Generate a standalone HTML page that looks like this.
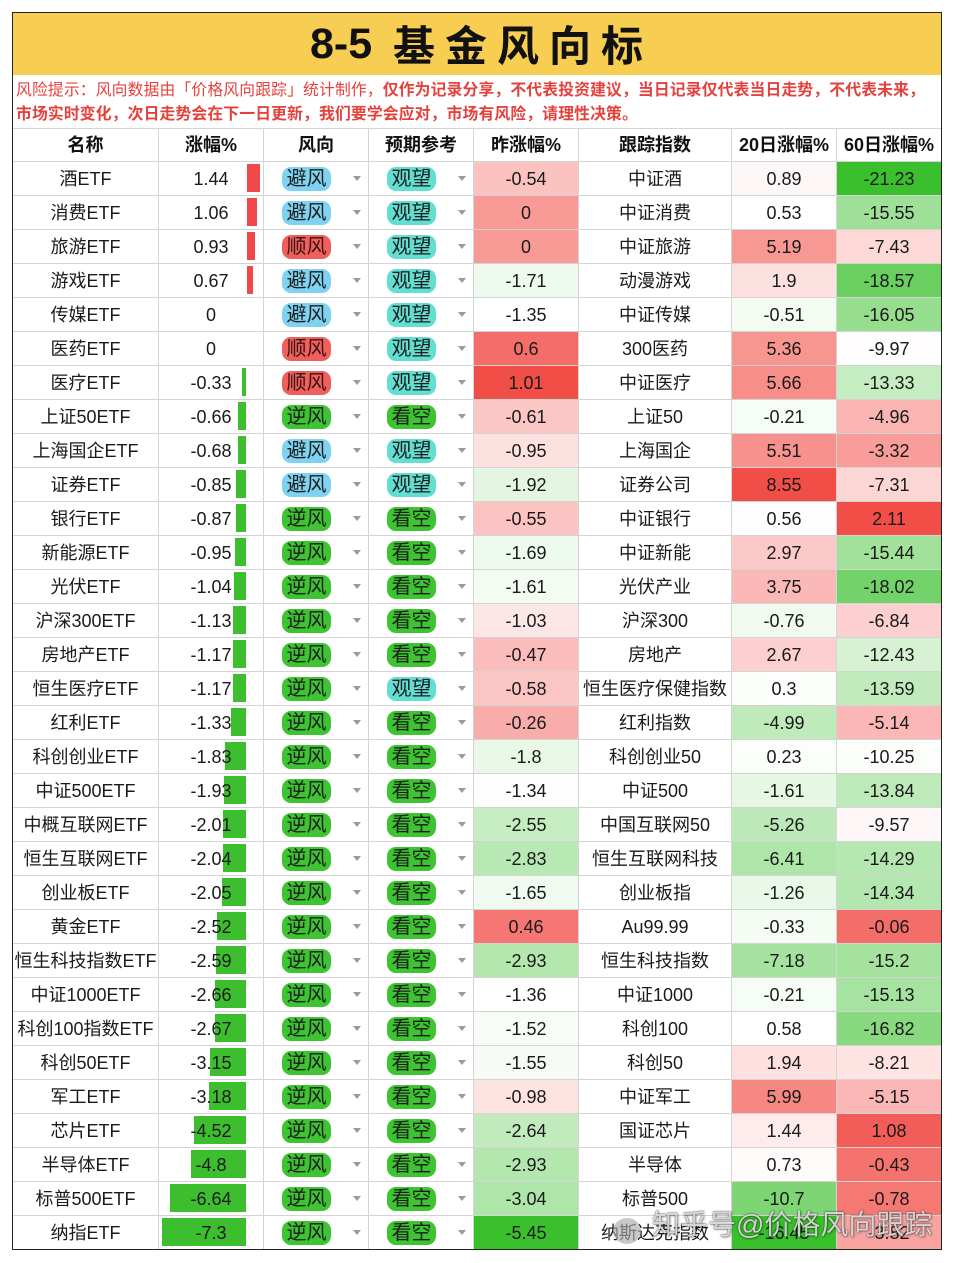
<!DOCTYPE html>
<html><head><meta charset="utf-8">
<style>
*{margin:0;padding:0;box-sizing:border-box}
body{width:954px;height:1263px;background:#fff;position:relative;overflow:hidden;font-family:"Liberation Sans","Noto Sans CJK SC",sans-serif;color:#1a1a1a}
#box{position:absolute;left:12px;top:12px;width:930px;height:1238px;border:1px solid #222;overflow:hidden}
#title{height:62px;background:#F7CE52;position:relative}
#warn{height:53px;position:relative}
.r{display:flex;height:34px;border-top:1px solid #d4d4d4}
.hd{height:33px;border-top:1px solid #d4d4d4;display:flex}
.c{height:100%;border-right:1px solid #d4d4d4;display:flex;align-items:center;justify-content:center;position:relative;font-size:18px;line-height:20px;white-space:nowrap}
.hd .c{font-weight:bold;font-size:18px;color:#111}
.c1{width:146px}.c2{width:105px}.c3{width:105px}.c4{width:105px}.c5{width:105px}.c6{width:153px}.c7{width:105px}.c8{width:104px;border-right:none}
.c2 span{position:relative;z-index:2}
.bn{position:absolute;top:2px;height:28px;background:#3DBE2E;right:17px;z-index:1}
.bp{position:absolute;top:2px;height:28px;background:#F04848;left:88px;z-index:1}
.p{position:absolute;left:18px;top:5px;width:49px;height:24px;border-radius:9px;font-size:20px;line-height:24px;text-align:center;font-weight:normal;color:#1d1d1d}
.bf{background:#7FD3F1}
.sf{background:#EF605D;color:#3a1414}
.nf{background:#3CC431}
.gw{background:#62DED2}
.ar{position:absolute;left:89px;top:14px;width:0;height:0;border-left:4px solid transparent;border-right:4px solid transparent;border-top:5px solid #9a9a9a}
#wm{position:absolute;left:652px;top:1205px;font-size:28px;line-height:40px;color:rgba(255,255,255,0.8);text-shadow:0 0 1px rgba(0,0,0,0.7),0 0 2px rgba(0,0,0,0.45),1px 1px 2px rgba(0,0,0,0.25);white-space:nowrap;font-family:"Liberation Sans","Noto Sans CJK SC",sans-serif;z-index:10}
#logo{position:absolute;left:613px;top:1218px;width:28px;height:26px;border-radius:50%;background:rgba(170,170,170,0.65);z-index:10}
</style></head><body>
<div id="box">
<div id="title">
<span style="position:absolute;left:297px;top:0;line-height:62px;font-size:43px;font-weight:bold;color:#111">8-5</span>
<span style="position:absolute;left:380px;top:0;line-height:62px;font-size:42px;font-weight:bold;letter-spacing:10px;color:#111;font-family:'Noto Sans CJK SC',sans-serif">基金风向标</span>
</div>
<div id="warn"></div>
<div class="hd">
<div class="c c1">名称</div><div class="c c2">涨幅%</div><div class="c c3">风向</div><div class="c c4">预期参考</div><div class="c c5">昨涨幅%</div><div class="c c6">跟踪指数</div><div class="c c7">20日涨幅%</div><div class="c c8">60日涨幅%</div>
</div>

<div class="r"><div class="c c1">酒ETF</div><div class="c c2"><i class="bp" style="width:13px"></i><span>1.44</span></div><div class="c c3"><b class="p bf">避风</b><i class="ar"></i></div><div class="c c4"><b class="p gw">观望</b><i class="ar"></i></div><div class="c c5" style="background:#FBC2C0">-0.54</div><div class="c c6">中证酒</div><div class="c c7" style="background:#FEF7F7">0.89</div><div class="c c8" style="background:#3AC02C">-21.23</div></div>

<div class="r"><div class="c c1">消费ETF</div><div class="c c2"><i class="bp" style="width:10px"></i><span>1.06</span></div><div class="c c3"><b class="p bf">避风</b><i class="ar"></i></div><div class="c c4"><b class="p gw">观望</b><i class="ar"></i></div><div class="c c5" style="background:#F89A96">0</div><div class="c c6">中证消费</div><div class="c c7" style="background:#FFFFFF">0.53</div><div class="c c8" style="background:#9FE098">-15.55</div></div>

<div class="r"><div class="c c1">旅游ETF</div><div class="c c2"><i class="bp" style="width:8px"></i><span>0.93</span></div><div class="c c3"><b class="p sf">顺风</b><i class="ar"></i></div><div class="c c4"><b class="p gw">观望</b><i class="ar"></i></div><div class="c c5" style="background:#F89A96">0</div><div class="c c6">中证旅游</div><div class="c c7" style="background:#F79895">5.19</div><div class="c c8" style="background:#FCD8D7">-7.43</div></div>

<div class="r"><div class="c c1">游戏ETF</div><div class="c c2"><i class="bp" style="width:6px"></i><span>0.67</span></div><div class="c c3"><b class="p bf">避风</b><i class="ar"></i></div><div class="c c4"><b class="p gw">观望</b><i class="ar"></i></div><div class="c c5" style="background:#EEFAED">-1.71</div><div class="c c6">动漫游戏</div><div class="c c7" style="background:#FDE1E0">1.9</div><div class="c c8" style="background:#69CF5E">-18.57</div></div>

<div class="r"><div class="c c1">传媒ETF</div><div class="c c2"><span>0</span></div><div class="c c3"><b class="p bf">避风</b><i class="ar"></i></div><div class="c c4"><b class="p gw">观望</b><i class="ar"></i></div><div class="c c5" style="background:#FFFFFF">-1.35</div><div class="c c6">中证传媒</div><div class="c c7" style="background:#F3FBF2">-0.51</div><div class="c c8" style="background:#96DD8E">-16.05</div></div>

<div class="r"><div class="c c1">医药ETF</div><div class="c c2"><span>0</span></div><div class="c c3"><b class="p sf">顺风</b><i class="ar"></i></div><div class="c c4"><b class="p gw">观望</b><i class="ar"></i></div><div class="c c5" style="background:#F46D68">0.6</div><div class="c c6">300医药</div><div class="c c7" style="background:#F79591">5.36</div><div class="c c8" style="background:#FFFDFD">-9.97</div></div>

<div class="r"><div class="c c1">医疗ETF</div><div class="c c2"><i class="bn" style="width:4px"></i><span>-0.33</span></div><div class="c c3"><b class="p sf">顺风</b><i class="ar"></i></div><div class="c c4"><b class="p gw">观望</b><i class="ar"></i></div><div class="c c5" style="background:#F24E48">1.01</div><div class="c c6">中证医疗</div><div class="c c7" style="background:#F78E8A">5.66</div><div class="c c8" style="background:#C6EDC2">-13.33</div></div>

<div class="r"><div class="c c1">上证50ETF</div><div class="c c2"><i class="bn" style="width:8px"></i><span>-0.66</span></div><div class="c c3"><b class="p nf">逆风</b><i class="ar"></i></div><div class="c c4"><b class="p nf">看空</b><i class="ar"></i></div><div class="c c5" style="background:#FBC7C5">-0.61</div><div class="c c6">上证50</div><div class="c c7" style="background:#F6FCF6">-0.21</div><div class="c c8" style="background:#FAB4B2">-4.96</div></div>

<div class="r"><div class="c c1">上海国企ETF</div><div class="c c2"><i class="bn" style="width:8px"></i><span>-0.68</span></div><div class="c c3"><b class="p bf">避风</b><i class="ar"></i></div><div class="c c4"><b class="p gw">观望</b><i class="ar"></i></div><div class="c c5" style="background:#FDE1E0">-0.95</div><div class="c c6">上海国企</div><div class="c c7" style="background:#F7918E">5.51</div><div class="c c8" style="background:#F89D99">-3.32</div></div>

<div class="r"><div class="c c1">证券ETF</div><div class="c c2"><i class="bn" style="width:10px"></i><span>-0.85</span></div><div class="c c3"><b class="p bf">避风</b><i class="ar"></i></div><div class="c c4"><b class="p gw">观望</b><i class="ar"></i></div><div class="c c5" style="background:#E4F6E2">-1.92</div><div class="c c6">证券公司</div><div class="c c7" style="background:#F24E48">8.55</div><div class="c c8" style="background:#FCD6D5">-7.31</div></div>

<div class="r"><div class="c c1">银行ETF</div><div class="c c2"><i class="bn" style="width:10px"></i><span>-0.87</span></div><div class="c c3"><b class="p nf">逆风</b><i class="ar"></i></div><div class="c c4"><b class="p nf">看空</b><i class="ar"></i></div><div class="c c5" style="background:#FBC3C1">-0.55</div><div class="c c6">中证银行</div><div class="c c7" style="background:#FFFEFE">0.56</div><div class="c c8" style="background:#F24E48">2.11</div></div>

<div class="r"><div class="c c1">新能源ETF</div><div class="c c2"><i class="bn" style="width:11px"></i><span>-0.95</span></div><div class="c c3"><b class="p nf">逆风</b><i class="ar"></i></div><div class="c c4"><b class="p nf">看空</b><i class="ar"></i></div><div class="c c5" style="background:#EFFAEE">-1.69</div><div class="c c6">中证新能</div><div class="c c7" style="background:#FBC9C8">2.97</div><div class="c c8" style="background:#A1E19A">-15.44</div></div>

<div class="r"><div class="c c1">光伏ETF</div><div class="c c2"><i class="bn" style="width:12px"></i><span>-1.04</span></div><div class="c c3"><b class="p nf">逆风</b><i class="ar"></i></div><div class="c c4"><b class="p nf">看空</b><i class="ar"></i></div><div class="c c5" style="background:#F3FBF2">-1.61</div><div class="c c6">光伏产业</div><div class="c c7" style="background:#FAB8B6">3.75</div><div class="c c8" style="background:#73D269">-18.02</div></div>

<div class="r"><div class="c c1">沪深300ETF</div><div class="c c2"><i class="bn" style="width:13px"></i><span>-1.13</span></div><div class="c c3"><b class="p nf">逆风</b><i class="ar"></i></div><div class="c c4"><b class="p nf">看空</b><i class="ar"></i></div><div class="c c5" style="background:#FDE7E6">-1.03</div><div class="c c6">沪深300</div><div class="c c7" style="background:#F0FAEF">-0.76</div><div class="c c8" style="background:#FCD0CE">-6.84</div></div>

<div class="r"><div class="c c1">房地产ETF</div><div class="c c2"><i class="bn" style="width:13px"></i><span>-1.17</span></div><div class="c c3"><b class="p nf">逆风</b><i class="ar"></i></div><div class="c c4"><b class="p nf">看空</b><i class="ar"></i></div><div class="c c5" style="background:#FABDBB">-0.47</div><div class="c c6">房地产</div><div class="c c7" style="background:#FCD0CF">2.67</div><div class="c c8" style="background:#D6F2D3">-12.43</div></div>

<div class="r"><div class="c c1">恒生医疗ETF</div><div class="c c2"><i class="bn" style="width:13px"></i><span>-1.17</span></div><div class="c c3"><b class="p nf">逆风</b><i class="ar"></i></div><div class="c c4"><b class="p gw">观望</b><i class="ar"></i></div><div class="c c5" style="background:#FBC5C3">-0.58</div><div class="c c6">恒生医疗保健指数</div><div class="c c7" style="background:#FCFEFC">0.3</div><div class="c c8" style="background:#C1EBBD">-13.59</div></div>

<div class="r"><div class="c c1">红利ETF</div><div class="c c2"><i class="bn" style="width:15px"></i><span>-1.33</span></div><div class="c c3"><b class="p nf">逆风</b><i class="ar"></i></div><div class="c c4"><b class="p nf">看空</b><i class="ar"></i></div><div class="c c5" style="background:#F9ADAA">-0.26</div><div class="c c6">红利指数</div><div class="c c7" style="background:#BFEABA">-4.99</div><div class="c c8" style="background:#FAB7B5">-5.14</div></div>

<div class="r"><div class="c c1">科创创业ETF</div><div class="c c2"><i class="bn" style="width:21px"></i><span>-1.83</span></div><div class="c c3"><b class="p nf">逆风</b><i class="ar"></i></div><div class="c c4"><b class="p nf">看空</b><i class="ar"></i></div><div class="c c5" style="background:#EAF8E8">-1.8</div><div class="c c6">科创创业50</div><div class="c c7" style="background:#FBFEFB">0.23</div><div class="c c8" style="background:#FCFEFC">-10.25</div></div>

<div class="r"><div class="c c1">中证500ETF</div><div class="c c2"><i class="bn" style="width:22px"></i><span>-1.93</span></div><div class="c c3"><b class="p nf">逆风</b><i class="ar"></i></div><div class="c c4"><b class="p nf">看空</b><i class="ar"></i></div><div class="c c5" style="background:#FFFEFE">-1.34</div><div class="c c6">中证500</div><div class="c c7" style="background:#E6F7E4">-1.61</div><div class="c c8" style="background:#BDEAB8">-13.84</div></div>

<div class="r"><div class="c c1">中概互联网ETF</div><div class="c c2"><i class="bn" style="width:23px"></i><span>-2.01</span></div><div class="c c3"><b class="p nf">逆风</b><i class="ar"></i></div><div class="c c4"><b class="p nf">看空</b><i class="ar"></i></div><div class="c c5" style="background:#C5EDC1">-2.55</div><div class="c c6">中国互联网50</div><div class="c c7" style="background:#BCE9B7">-5.26</div><div class="c c8" style="background:#FEF7F7">-9.57</div></div>

<div class="r"><div class="c c1">恒生互联网ETF</div><div class="c c2"><i class="bn" style="width:23px"></i><span>-2.04</span></div><div class="c c3"><b class="p nf">逆风</b><i class="ar"></i></div><div class="c c4"><b class="p nf">看空</b><i class="ar"></i></div><div class="c c5" style="background:#B8E8B3">-2.83</div><div class="c c6">恒生互联网科技</div><div class="c c7" style="background:#AEE5A9">-6.41</div><div class="c c8" style="background:#B5E7B0">-14.29</div></div>

<div class="r"><div class="c c1">创业板ETF</div><div class="c c2"><i class="bn" style="width:24px"></i><span>-2.05</span></div><div class="c c3"><b class="p nf">逆风</b><i class="ar"></i></div><div class="c c4"><b class="p nf">看空</b><i class="ar"></i></div><div class="c c5" style="background:#F1FAF0">-1.65</div><div class="c c6">创业板指</div><div class="c c7" style="background:#EAF8E9">-1.26</div><div class="c c8" style="background:#B4E7AF">-14.34</div></div>

<div class="r"><div class="c c1">黄金ETF</div><div class="c c2"><i class="bn" style="width:29px"></i><span>-2.52</span></div><div class="c c3"><b class="p nf">逆风</b><i class="ar"></i></div><div class="c c4"><b class="p nf">看空</b><i class="ar"></i></div><div class="c c5" style="background:#F57773">0.46</div><div class="c c6">Au99.99</div><div class="c c7" style="background:#F5FCF4">-0.33</div><div class="c c8" style="background:#F46E69">-0.06</div></div>

<div class="r"><div class="c c1">恒生科技指数ETF</div><div class="c c2"><i class="bn" style="width:30px"></i><span>-2.59</span></div><div class="c c3"><b class="p nf">逆风</b><i class="ar"></i></div><div class="c c4"><b class="p nf">看空</b><i class="ar"></i></div><div class="c c5" style="background:#B3E7AE">-2.93</div><div class="c c6">恒生科技指数</div><div class="c c7" style="background:#A5E29F">-7.18</div><div class="c c8" style="background:#A5E29E">-15.2</div></div>

<div class="r"><div class="c c1">中证1000ETF</div><div class="c c2"><i class="bn" style="width:31px"></i><span>-2.66</span></div><div class="c c3"><b class="p nf">逆风</b><i class="ar"></i></div><div class="c c4"><b class="p nf">看空</b><i class="ar"></i></div><div class="c c5" style="background:#FFFFFF">-1.36</div><div class="c c6">中证1000</div><div class="c c7" style="background:#F6FCF6">-0.21</div><div class="c c8" style="background:#A6E3A0">-15.13</div></div>

<div class="r"><div class="c c1">科创100指数ETF</div><div class="c c2"><i class="bn" style="width:31px"></i><span>-2.67</span></div><div class="c c3"><b class="p nf">逆风</b><i class="ar"></i></div><div class="c c4"><b class="p nf">看空</b><i class="ar"></i></div><div class="c c5" style="background:#F7FCF7">-1.52</div><div class="c c6">科创100</div><div class="c c7" style="background:#FFFFFF">0.58</div><div class="c c8" style="background:#88D980">-16.82</div></div>

<div class="r"><div class="c c1">科创50ETF</div><div class="c c2"><i class="bn" style="width:36px"></i><span>-3.15</span></div><div class="c c3"><b class="p nf">逆风</b><i class="ar"></i></div><div class="c c4"><b class="p nf">看空</b><i class="ar"></i></div><div class="c c5" style="background:#F6FCF5">-1.55</div><div class="c c6">科创50</div><div class="c c7" style="background:#FDE0DF">1.94</div><div class="c c8" style="background:#FDE4E3">-8.21</div></div>

<div class="r"><div class="c c1">军工ETF</div><div class="c c2"><i class="bn" style="width:37px"></i><span>-3.18</span></div><div class="c c3"><b class="p nf">逆风</b><i class="ar"></i></div><div class="c c4"><b class="p nf">看空</b><i class="ar"></i></div><div class="c c5" style="background:#FDE3E2">-0.98</div><div class="c c6">中证军工</div><div class="c c7" style="background:#F68783">5.99</div><div class="c c8" style="background:#FAB7B5">-5.15</div></div>

<div class="r"><div class="c c1">芯片ETF</div><div class="c c2"><i class="bn" style="width:52px"></i><span>-4.52</span></div><div class="c c3"><b class="p nf">逆风</b><i class="ar"></i></div><div class="c c4"><b class="p nf">看空</b><i class="ar"></i></div><div class="c c5" style="background:#C1EBBD">-2.64</div><div class="c c6">国证芯片</div><div class="c c7" style="background:#FEEBEB">1.44</div><div class="c c8" style="background:#F35D57">1.08</div></div>

<div class="r"><div class="c c1">半导体ETF</div><div class="c c2"><i class="bn" style="width:55px"></i><span>-4.8</span></div><div class="c c3"><b class="p nf">逆风</b><i class="ar"></i></div><div class="c c4"><b class="p nf">看空</b><i class="ar"></i></div><div class="c c5" style="background:#B3E7AE">-2.93</div><div class="c c6">半导体</div><div class="c c7" style="background:#FFFBFB">0.73</div><div class="c c8" style="background:#F5736E">-0.43</div></div>

<div class="r"><div class="c c1">标普500ETF</div><div class="c c2"><i class="bn" style="width:76px"></i><span>-6.64</span></div><div class="c c3"><b class="p nf">逆风</b><i class="ar"></i></div><div class="c c4"><b class="p nf">看空</b><i class="ar"></i></div><div class="c c5" style="background:#AEE5A8">-3.04</div><div class="c c6">标普500</div><div class="c c7" style="background:#7DD573">-10.7</div><div class="c c8" style="background:#F57873">-0.78</div></div>

<div class="r"><div class="c c1">纳指ETF</div><div class="c c2"><i class="bn" style="width:84px"></i><span>-7.3</span></div><div class="c c3"><b class="p nf">逆风</b><i class="ar"></i></div><div class="c c4"><b class="p nf">看空</b><i class="ar"></i></div><div class="c c5" style="background:#3AC02C">-5.45</div><div class="c c6">纳斯达克指数</div><div class="c c7" style="background:#3AC02C">-16.45</div><div class="c c8" style="background:#F8A4A1">-3.82</div></div>
</div>

<div style="position:absolute;left:16px;top:79px;white-space:nowrap;font-size:15.8px;line-height:24px;letter-spacing:0.15px;color:#E5413C;font-family:'Liberation Sans','Noto Sans CJK SC',sans-serif">风险提示：风向数据由「价格风向跟踪」统计制作，<b>仅作为记录分享，不代表投资建议，当日记录仅代表当日走势，不代表未来，</b><br><b>市场实时变化，次日走势会在下一日更新，我们要学会应对，市场有风险，请理性决策。</b></div>

<div id="logo"></div>
<div id="wm">知乎号@价格风向跟踪</div>
</body></html>
